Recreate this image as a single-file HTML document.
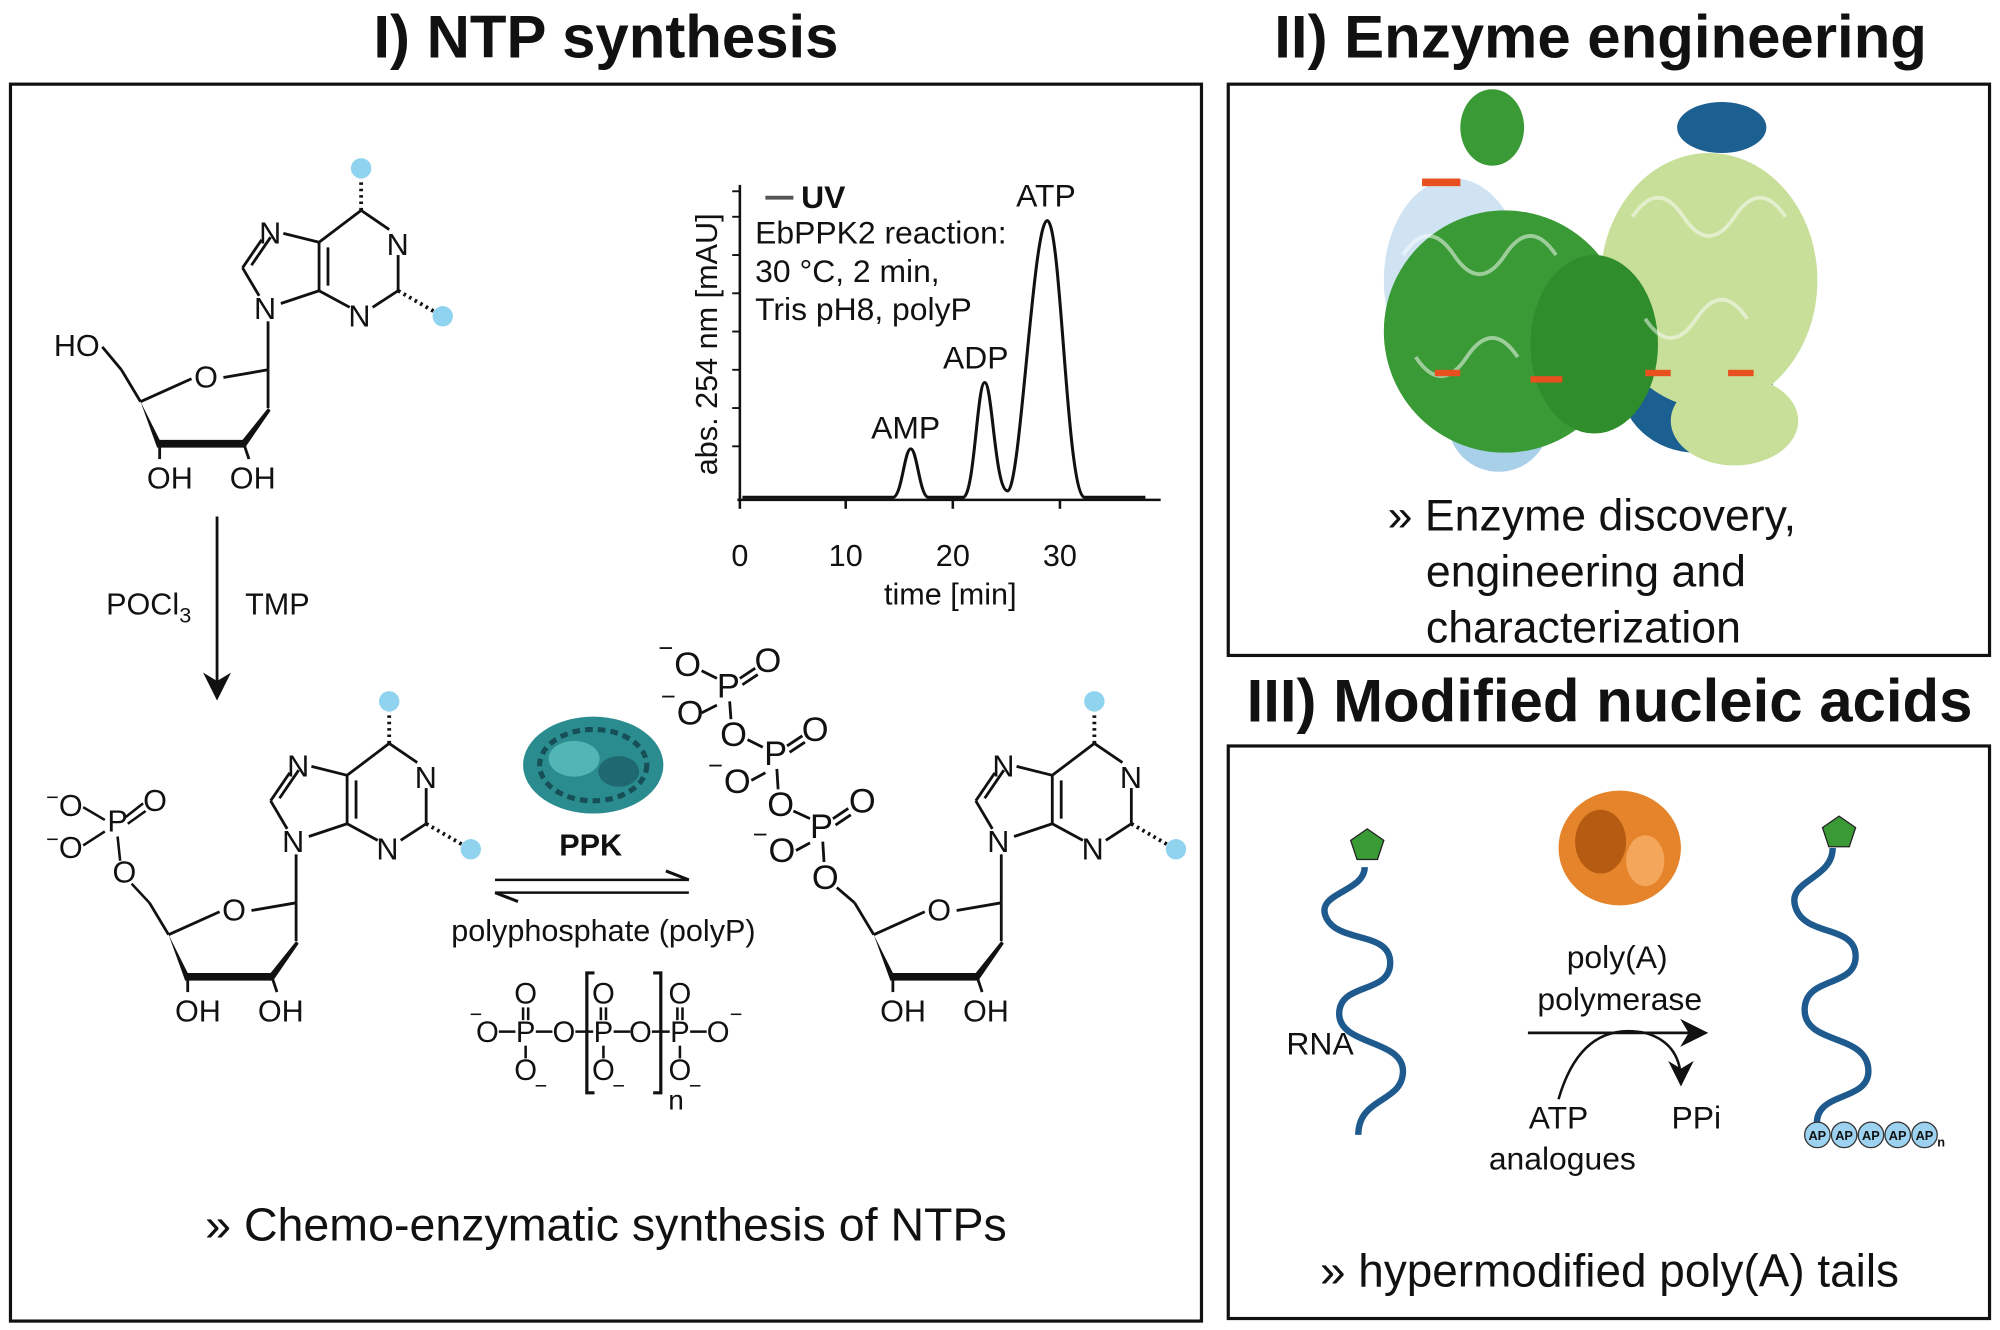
<!DOCTYPE html>
<html><head><meta charset="utf-8"><style>
html,body{margin:0;padding:0;background:#fff}
svg{display:block}
text{font-family:"Liberation Sans",sans-serif;fill:#111}
</style></head><body>
<svg width="2000" height="1330" viewBox="0 0 1568 1043" xmlns="http://www.w3.org/2000/svg">
<defs>
<g id="nuc">
 <g stroke="#111" stroke-width="2.2" fill="none">
  <line x1="283" y1="165" x2="305" y2="180"/>
  <line x1="312" y1="200" x2="312" y2="228"/>
  <line x1="312" y1="228" x2="292" y2="241"/>
  <line x1="274" y1="241" x2="250" y2="228"/>
  <line x1="250" y1="228" x2="250" y2="190"/>
  <line x1="257" y1="224" x2="257" y2="194"/>
  <line x1="250" y1="190" x2="283" y2="165"/>
  <line x1="250" y1="190" x2="222" y2="183"/>
  <line x1="205" y1="188" x2="190" y2="210"/>
  <line x1="212" y1="186" x2="197" y2="208"/>
  <line x1="190" y1="210" x2="203" y2="232"/>
  <line x1="220" y1="238" x2="250" y2="228"/>
  <line x1="210" y1="252" x2="210" y2="290"/>
 </g>
 <line x1="283" y1="165" x2="283" y2="135" stroke="#111" stroke-width="3" stroke-dasharray="2 3"/>
 <line x1="312" y1="228" x2="345" y2="247" stroke="#111" stroke-width="3" stroke-dasharray="2 3"/>
 <circle cx="283" cy="132" r="8" fill="#8fd3ef"/>
 <circle cx="347" cy="248" r="8" fill="#8fd3ef"/>
 <text x="203" y="191" font-size="24">N</text>
 <text x="303" y="200" font-size="24">N</text>
 <text x="273" y="256" font-size="24">N</text>
 <text x="199" y="250" font-size="24">N</text>
 <g stroke="#111" stroke-width="2.2" fill="none">
  <line x1="210" y1="290" x2="175" y2="296"/>
  <line x1="150" y1="297" x2="110" y2="315"/>
  <line x1="110" y1="315" x2="95" y2="290"/>
  <line x1="125" y1="345" x2="125" y2="360"/>
  <line x1="190" y1="345" x2="195" y2="360"/>
 </g>
 <polygon points="110,315 125,345 190,345 210,320 212,322 192,351 123,351" fill="#111"/>
 <line x1="210" y1="290" x2="210" y2="320" stroke="#111" stroke-width="2.2"/>
 <text x="152" y="304" font-size="24">O</text>
 <text x="115" y="383" font-size="24">OH</text>
 <text x="180" y="383" font-size="24">OH</text>
</g>
<marker id="ah" markerWidth="10" markerHeight="10" refX="8" refY="5" orient="auto"><path d="M0,0 L10,5 L0,10 L3,5z" fill="#111"/></marker>
</defs>

<text x="475" y="45" font-size="47" font-weight="bold" text-anchor="middle">I) NTP synthesis</text>
<text x="1255" y="45" font-size="47" font-weight="bold" text-anchor="middle">II) Enzyme engineering</text>
<text x="1262" y="566" font-size="47" font-weight="bold" text-anchor="middle">III) Modified nucleic acids</text>

<rect x="8" y="66" width="934" height="970" fill="none" stroke="#111" stroke-width="2.5"/>
<rect x="963" y="66" width="597" height="448" fill="none" stroke="#111" stroke-width="2.5"/>
<rect x="963" y="585" width="597" height="449" fill="none" stroke="#111" stroke-width="2.5"/>

<use href="#nuc"/>
<text x="42" y="279" font-size="24">HO</text>
<line x1="80" y1="272" x2="95" y2="290" stroke="#111" stroke-width="2.2"/>

<line x1="170" y1="405" x2="170" y2="545" stroke="#111" stroke-width="2.2" marker-end="url(#ah)"/>
<text x="83" y="482" font-size="24">POCl<tspan font-size="17" dy="6">3</tspan></text>
<text x="192" y="482" font-size="24">TMP</text>

<g transform="translate(22,418)"><use href="#nuc"/></g>
<text x="36" y="640" font-size="24"><tspan font-size="17" dy="-9">−</tspan><tspan dy="9">O</tspan></text>
<text x="84" y="652" font-size="24">P</text>
<text x="112" y="636" font-size="24">O</text>
<text x="36" y="673" font-size="24"><tspan font-size="17" dy="-9">−</tspan><tspan dy="9">O</tspan></text>
<text x="88" y="692" font-size="24">O</text>
<g stroke="#111" stroke-width="2" fill="none">
 <line x1="65" y1="633" x2="82" y2="643"/><line x1="98" y1="641" x2="112" y2="630"/><line x1="100" y1="646" x2="114" y2="636"/>
 <line x1="65" y1="663" x2="82" y2="652"/><line x1="92" y1="656" x2="94" y2="675"/><line x1="103" y1="693" x2="117" y2="708"/>
</g>

<g>
 <ellipse cx="465" cy="600" rx="55" ry="38" fill="#2a8c8f"/>
 <ellipse cx="465" cy="600" rx="42" ry="28" fill="none" stroke="#174f57" stroke-width="4" stroke-dasharray="6 4"/>
 <ellipse cx="450" cy="595" rx="20" ry="14" fill="#5cc0bd" opacity=".8"/>
 <ellipse cx="485" cy="605" rx="16" ry="12" fill="#1e5f66" opacity=".8"/>
</g>
<text x="463" y="671" font-size="24" font-weight="bold" text-anchor="middle">PPK</text>
<line x1="388" y1="690" x2="540" y2="690" stroke="#111" stroke-width="2"/>
<polyline points="522,683 540,690" stroke="#111" stroke-width="2.4" fill="none"/>
<line x1="388" y1="700" x2="540" y2="700" stroke="#111" stroke-width="2"/>
<polyline points="406,707 388,700" stroke="#111" stroke-width="2.4" fill="none"/>
<text x="473" y="738" font-size="24" text-anchor="middle">polyphosphate (polyP)</text>

<g font-size="23" text-anchor="middle">
 <text x="382" y="817">O</text><text x="373" y="801" font-size="17">−</text>
 <text x="412" y="817">P</text><text x="442" y="817">O</text><text x="473" y="817">P</text><text x="502" y="817">O</text><text x="533" y="817">P</text><text x="563" y="817">O</text><text x="577" y="801" font-size="17">−</text>
 <text x="412" y="787">O</text><text x="473" y="787">O</text><text x="533" y="787">O</text>
 <text x="412" y="847">O</text><text x="473" y="847">O</text><text x="533" y="847">O</text>
 <text x="424" y="857" font-size="17">−</text><text x="485" y="857" font-size="17">−</text><text x="545" y="857" font-size="17">−</text>
 <text x="530" y="870" font-size="22">n</text>
</g>
<g stroke="#111" stroke-width="2">
 <line x1="391" y1="809" x2="404" y2="809"/><line x1="420" y1="809" x2="433" y2="809"/><line x1="451" y1="809" x2="465" y2="809"/><line x1="481" y1="809" x2="494" y2="809"/><line x1="511" y1="809" x2="525" y2="809"/><line x1="541" y1="809" x2="554" y2="809"/>
 <line x1="410" y1="790" x2="410" y2="800"/><line x1="414" y1="790" x2="414" y2="800"/>
 <line x1="471" y1="790" x2="471" y2="800"/><line x1="475" y1="790" x2="475" y2="800"/>
 <line x1="531" y1="790" x2="531" y2="800"/><line x1="535" y1="790" x2="535" y2="800"/>
 <line x1="412" y1="820" x2="412" y2="830"/><line x1="473" y1="820" x2="473" y2="830"/><line x1="533" y1="820" x2="533" y2="830"/>
</g>
<path d="M466,763 h-6 v94 h6 M512,763 h6 v94 h-6" stroke="#111" stroke-width="2.5" fill="none"/>

<g transform="translate(575,418)"><use href="#nuc"/></g>

<g font-size="27" text-anchor="middle">
 <text x="539" y="530">O</text><text x="522" y="515" font-size="20">−</text>
 <text x="571" y="547">P</text>
 <text x="602" y="527">O</text>
 <text x="541" y="568">O</text><text x="524" y="553" font-size="20">−</text>
 <text x="575" y="585">O</text>
 <text x="608" y="600">P</text>
 <text x="639" y="581">O</text>
 <text x="578" y="622">O</text><text x="561" y="607" font-size="20">−</text>
 <text x="612" y="640">O</text>
 <text x="644" y="657">P</text>
 <text x="676" y="637">O</text>
 <text x="613" y="676">O</text><text x="596" y="661" font-size="20">−</text>
 <text x="647" y="697">O</text>
</g>
<g stroke="#111" stroke-width="2.2">
 <line x1="550" y1="526" x2="562" y2="532"/><line x1="550" y1="559" x2="562" y2="553"/>
 <line x1="580" y1="532" x2="592" y2="524"/><line x1="582" y1="537" x2="594" y2="529"/>
 <line x1="572" y1="550" x2="573" y2="564"/>
 <line x1="586" y1="580" x2="598" y2="586"/><line x1="589" y1="612" x2="600" y2="606"/>
 <line x1="617" y1="585" x2="629" y2="577"/><line x1="619" y1="590" x2="631" y2="582"/>
 <line x1="609" y1="603" x2="610" y2="619"/>
 <line x1="622" y1="636" x2="635" y2="642"/><line x1="624" y1="667" x2="635" y2="661"/>
 <line x1="653" y1="642" x2="665" y2="634"/><line x1="655" y1="647" x2="667" y2="639"/>
 <line x1="645" y1="660" x2="646" y2="676"/>
 <line x1="656" y1="696" x2="670" y2="708"/>
</g>

<text x="475" y="973" font-size="36.5" text-anchor="middle">» Chemo-enzymatic synthesis of NTPs</text>

<g stroke="#111" stroke-width="2" fill="none">
 <line x1="580" y1="145" x2="580" y2="392"/>
 <line x1="578" y1="392" x2="910" y2="392"/>
 <line x1="663" y1="392" x2="663" y2="399"/><line x1="747" y1="392" x2="747" y2="399"/><line x1="831" y1="392" x2="831" y2="399"/><line x1="580" y1="392" x2="580" y2="399"/>
 <g stroke-width="1.5"><line x1="574" y1="170" x2="580" y2="170"/><line x1="574" y1="200" x2="580" y2="200"/><line x1="574" y1="230" x2="580" y2="230"/><line x1="574" y1="260" x2="580" y2="260"/><line x1="574" y1="290" x2="580" y2="290"/><line x1="574" y1="320" x2="580" y2="320"/><line x1="574" y1="350" x2="580" y2="350"/><line x1="574" y1="150" x2="580" y2="150"/></g>
 <path d="M582,390 L700,390 C707,390 709,352 714,352 C719,352 721,390 728,390 L755,390 C764,390 766,300 772,300 C778,300 780,385 790,385 C800,385 810,173 821,173 C832,173 836,385 850,390 L898,390" stroke-width="2.4"/>
 <line x1="600" y1="155" x2="622" y2="155" stroke="#555" stroke-width="3"/>
</g>
<text x="580" y="444" font-size="24" text-anchor="middle">0</text><text x="663" y="444" font-size="24" text-anchor="middle">10</text><text x="747" y="444" font-size="24" text-anchor="middle">20</text><text x="831" y="444" font-size="24" text-anchor="middle">30</text>
<text x="745" y="474" font-size="24" text-anchor="middle">time [min]</text>
<text transform="translate(562,270) rotate(-90)" font-size="24" text-anchor="middle">abs. 254 nm [mAU]</text>
<text x="628" y="163" font-size="25" font-weight="bold">UV</text>
<text x="592" y="191" font-size="25">EbPPK2 reaction:</text>
<text x="592" y="221" font-size="25">30 °C, 2 min,</text>
<text x="592" y="251" font-size="25">Tris pH8, polyP</text>
<text x="710" y="344" font-size="25" text-anchor="middle">AMP</text>
<text x="765" y="289" font-size="25" text-anchor="middle">ADP</text>
<text x="820" y="162" font-size="25" text-anchor="middle">ATP</text>

<g>
 <ellipse cx="1140" cy="220" rx="55" ry="80" fill="#cfe3f2"/>
 <ellipse cx="1175" cy="330" rx="40" ry="40" fill="#a8d0e8"/>
 <ellipse cx="1350" cy="100" rx="35" ry="20" fill="#1c5f91"/>
 <ellipse cx="1330" cy="300" rx="60" ry="55" fill="#1c5f91"/>
 <ellipse cx="1180" cy="260" rx="95" ry="95" fill="#3a9a35"/>
 <ellipse cx="1170" cy="100" rx="25" ry="30" fill="#3a9a35"/>
 <ellipse cx="1340" cy="220" rx="85" ry="100" fill="#c7df98"/>
 <ellipse cx="1360" cy="330" rx="50" ry="35" fill="#c7df98"/>
 <ellipse cx="1250" cy="270" rx="50" ry="70" fill="#2f8e2b"/>
 <path d="M1100,200 q20,-30 40,0 t40,0 t40,0 M1110,280 q20,30 40,0 t40,0 M1280,170 q20,-30 40,0 t40,0 t40,0 M1290,250 q20,30 40,0 t40,0" stroke="#ffffff" stroke-width="3" fill="none" opacity=".5"/>
 <g fill="#e8501f"><rect x="1115" y="140" width="30" height="6"/><rect x="1200" y="295" width="25" height="5"/><rect x="1290" y="290" width="20" height="5"/><rect x="1355" y="290" width="20" height="5"/><rect x="1125" y="290" width="20" height="5"/></g>
</g>
<text x="1088" y="416" font-size="35">» Enzyme discovery,</text>
<text x="1118" y="460" font-size="35">engineering and</text>
<text x="1118" y="504" font-size="35">characterization</text>

<path d="M1070,680 C1070,700 1030,700 1040,720 C1050,740 1090,730 1090,755 C1090,780 1050,770 1050,795 C1050,820 1100,815 1100,840 C1100,865 1065,860 1065,890" stroke="#1e5a8e" stroke-width="5" fill="none"/>
<polygon points="1072,650 1085,659 1080,674 1064,674 1059,659" fill="#3a9a35" stroke="#222" stroke-width="1"/>
<path d="M1437,665 C1437,690 1400,690 1408,712 C1416,735 1455,725 1455,750 C1455,775 1415,765 1415,792 C1415,820 1465,810 1465,840 C1465,865 1420,855 1425,885" stroke="#1e5a8e" stroke-width="5" fill="none"/>
<polygon points="1442,640 1455,649 1450,664 1434,664 1429,649" fill="#3a9a35" stroke="#222" stroke-width="1"/>
<g fill="#9cd2ef" stroke="#333" stroke-width="1">
 <circle cx="1425" cy="890" r="10"/><circle cx="1446" cy="890" r="10"/><circle cx="1467" cy="890" r="10"/><circle cx="1488" cy="890" r="10"/><circle cx="1509" cy="890" r="10"/>
</g>
<g font-size="10" font-weight="bold"><text x="1418" y="894">AP</text><text x="1439" y="894">AP</text><text x="1460" y="894">AP</text><text x="1481" y="894">AP</text><text x="1502" y="894">AP</text><text x="1519" y="899">n</text></g>
<g>
 <ellipse cx="1270" cy="665" rx="48" ry="45" fill="#e5842a"/>
 <ellipse cx="1255" cy="660" rx="20" ry="25" fill="#b55c12"/>
 <ellipse cx="1290" cy="675" rx="15" ry="20" fill="#f4a65a"/>
</g>
<text x="1268" y="759" font-size="25" text-anchor="middle">poly(A)</text>
<text x="1270" y="792" font-size="25" text-anchor="middle">polymerase</text>
<line x1="1198" y1="810" x2="1335" y2="810" stroke="#111" stroke-width="2.2" marker-end="url(#ah)"/>
<path d="M1222,862 Q1240,800 1290,810 Q1318,818 1318,848" stroke="#111" stroke-width="2" fill="none" marker-end="url(#ah)"/>
<text x="1222" y="885" font-size="25" text-anchor="middle">ATP</text>
<text x="1225" y="917" font-size="25" text-anchor="middle">analogues</text>
<text x="1330" y="885" font-size="25" text-anchor="middle">PPi</text>
<text x="1035" y="827" font-size="25" text-anchor="middle">RNA</text>
<text x="1262" y="1009" font-size="36" text-anchor="middle">» hypermodified poly(A) tails</text>
</svg>
</body></html>
